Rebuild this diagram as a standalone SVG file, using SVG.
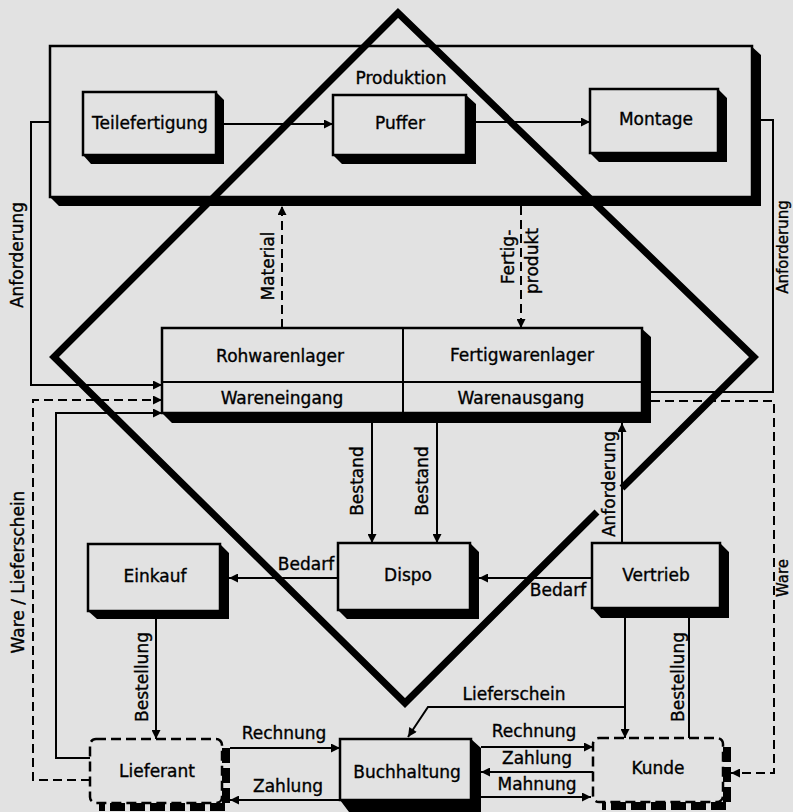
<svg xmlns="http://www.w3.org/2000/svg" width="793" height="812" viewBox="0 0 793 812">
  <defs>
    <marker id="ah" viewBox="0 0 10 10" refX="10" refY="5" markerWidth="11" markerHeight="9" markerUnits="userSpaceOnUse" orient="auto">
      <path d="M0,0 L10,5 L0,10 z" fill="#000" stroke="none"/>
    </marker>
    <style>
      .box { fill: #e2e2e2; stroke: #000; stroke-width: 2.5; }
      .shadow { fill: #000; stroke: none; }
      .dbox { fill: #e2e2e2; stroke: #000; stroke-width: 2.5; stroke-dasharray: 10 5; }
      .dshadow { fill: none; stroke: #000; stroke-width: 8; stroke-dasharray: 15 5; }
      .conn { fill: none; stroke: #000; stroke-width: 2; }
      .dash { stroke-dasharray: 9 5; }
      .arr { marker-end: url(#ah); }
      .lbl { font-family: "DejaVu Sans", "Liberation Sans", sans-serif; font-size: 17px; fill: #000; stroke: #000; stroke-width: 0.35; text-anchor: middle; }
      .edge { font-size: 15px; }
      .diamond { fill: none; stroke: #000; stroke-width: 7; stroke-linejoin: miter; }
    </style>
  </defs>

  <rect x="0" y="0" width="793" height="812" fill="#e2e2e2"/>

  <!-- production frame -->
  <g id="produktion">
    <polygon class="shadow" points="750,45 761,55 761,206 59,206 50,197 750,197"/>
    <rect class="box" x="50" y="46" width="702" height="151"/>
    <text class="lbl" x="401" y="84">Produktion</text>
  </g>

  <g id="teilefertigung">
    <polygon class="shadow" points="216,92 224,100 224,164 91,164 83,155 216,155"/>
    <rect class="box" x="83" y="92" width="133" height="63"/>
    <text class="lbl" x="150" y="129">Teilefertigung</text>
  </g>

  <g id="puffer">
    <polygon class="shadow" points="466,95 476,104 476,164 342,164 333,155 466,155"/>
    <rect class="box" x="333" y="95" width="133" height="60"/>
    <text class="lbl" x="400" y="129">Puffer</text>
  </g>

  <g id="montage">
    <polygon class="shadow" points="718,89 727,98 727,162 599,162 590,153 718,153"/>
    <rect class="box" x="590" y="89" width="128" height="64"/>
    <text class="lbl" x="656" y="125">Montage</text>
  </g>

  <!-- warehouse block -->
  <g id="lager">
    <polygon class="shadow" points="641,328 651,337 651,423 172,423 162,413 641,413"/>
    <rect class="box" x="162" y="328" width="480" height="85"/>
    <line x1="162" y1="382" x2="642" y2="382" stroke="#000" stroke-width="2"/>
    <line x1="403" y1="328" x2="403" y2="413" stroke="#000" stroke-width="2"/>
    <text class="lbl" x="280" y="362">Rohwarenlager</text>
    <text class="lbl" x="522" y="361">Fertigwarenlager</text>
    <text class="lbl" x="282" y="404">Wareneingang</text>
    <text class="lbl" x="521" y="404">Warenausgang</text>
  </g>

  <g id="einkauf">
    <polygon class="shadow" points="220,544 229,553 229,619 97,619 88,611 220,611"/>
    <rect class="box" x="88" y="544" width="132" height="67"/>
    <text class="lbl" x="155" y="582">Einkauf</text>
  </g>

  <g id="dispo">
    <polygon class="shadow" points="470,543 479,552 479,619 347,619 338,610 470,610"/>
    <rect class="box" x="338" y="543" width="132" height="67"/>
    <text class="lbl" x="408" y="581">Dispo</text>
  </g>

  <g id="vertrieb">
    <polygon class="shadow" points="720,543 729,552 729,618 601,618 592,608 720,608"/>
    <rect class="box" x="592" y="543" width="128" height="65"/>
    <text class="lbl" x="656" y="581">Vertrieb</text>
  </g>

  <g id="lieferant">
    <rect class="dbox" x="90" y="739" width="132" height="64" rx="6"/>
    <path class="dshadow" d="M226,748 V807 H99"/>
    <text class="lbl" x="157" y="777">Lieferant</text>
  </g>

  <g id="buchhaltung">
    <polygon class="shadow" points="471,739 481,748 481,812 349,812 340,800 471,800"/>
    <rect class="box" x="340" y="739" width="131" height="61"/>
    <text class="lbl" x="407" y="778">Buchhaltung</text>
  </g>

  <g id="kunde">
    <rect class="dbox" x="593" y="738" width="130" height="64" rx="6"/>
    <path class="dshadow" d="M727,747 V806 H602"/>
    <text class="lbl" x="658" y="774">Kunde</text>
  </g>

  <!-- connectors -->
  <g id="connectors">
    <path class="conn arr" d="M224,124 H333"/>
    <path class="conn arr" d="M476,122 H590"/>
    <path class="conn arr" d="M50,122 H31 V385 H162"/>
    <path class="conn" d="M761,120 H773 V392 H651"/>
    <path class="conn dash arr" d="M282,328 V206"/>
    <path class="conn dash arr" d="M521,206 V328"/>
    <path class="conn arr" d="M372,423 V543"/>
    <path class="conn arr" d="M437,423 V543"/>
    <path class="conn arr" d="M338,578 H229"/>
    <path class="conn arr" d="M592,578 H479"/>
    <path class="conn arr" d="M622,543 V423"/>
    <path class="conn arr" d="M156,619 V739"/>
    <path class="conn arr" d="M230,748 H340"/>
    <path class="conn arr" d="M340,800 H230"/>
    <path class="conn arr" d="M625,618 V738"/>
    <path class="conn arr" d="M625,707 H428 L408,737"/>
    <path class="conn" d="M689,738 V618"/>
    <path class="conn arr" d="M481,747 H593"/>
    <path class="conn arr" d="M593,772 H481"/>
    <path class="conn arr" d="M481,797 H591"/>
    <path class="conn dash arr" d="M651,401 H774 V773 H731"/>
    <path class="conn dash arr" d="M90,780 H33 V400 H162"/>
    <path class="conn arr" d="M90,758 H56 V413 H162"/>
  </g>

  <!-- connector labels -->
  <g id="labels">
    <text class="lbl" transform="translate(17,255) rotate(-90)" x="0" y="6">Anforderung</text>
    <text class="lbl edge" transform="translate(783,247) rotate(-90)" x="0" y="5">Anforderung</text>
    <text class="lbl" transform="translate(268,266) rotate(-90)" x="0" y="6">Material</text>
    <text class="lbl" transform="translate(508,257) rotate(-90)" x="0" y="6">Fertig-</text>
    <text class="lbl" transform="translate(532,261) rotate(-90)" x="0" y="6">produkt</text>
    <text class="lbl" transform="translate(357,481) rotate(-90)" x="0" y="6">Bestand</text>
    <text class="lbl" transform="translate(422,481) rotate(-90)" x="0" y="6">Bestand</text>
    <text class="lbl" transform="translate(609,484) rotate(-90)" x="0" y="6">Anforderung</text>
    <text class="lbl" transform="translate(142,677) rotate(-90)" x="0" y="6">Bestellung</text>
    <text class="lbl" transform="translate(678,677) rotate(-90)" x="0" y="6">Bestellung</text>
    <text class="lbl" transform="translate(18,572) rotate(-90)" x="0" y="6">Ware / Lieferschein</text>
    <text class="lbl edge" transform="translate(783,578) rotate(-90)" x="0" y="5">Ware</text>
    <text class="lbl" x="306" y="570">Bedarf</text>
    <text class="lbl" x="558" y="596">Bedarf</text>
    <text class="lbl" x="284" y="739">Rechnung</text>
    <text class="lbl" x="288" y="792">Zahlung</text>
    <text class="lbl" x="514" y="700">Lieferschein</text>
    <text class="lbl" x="534" y="737">Rechnung</text>
    <text class="lbl" x="537" y="764">Zahlung</text>
    <text class="lbl" x="537" y="790">Mahnung</text>
  </g>

  <!-- large diamond drawn over the layout -->
  <path class="diamond" d="M597,512 L405,703 L54,357 L398,13 L754,357 L622,488"/>
</svg>
